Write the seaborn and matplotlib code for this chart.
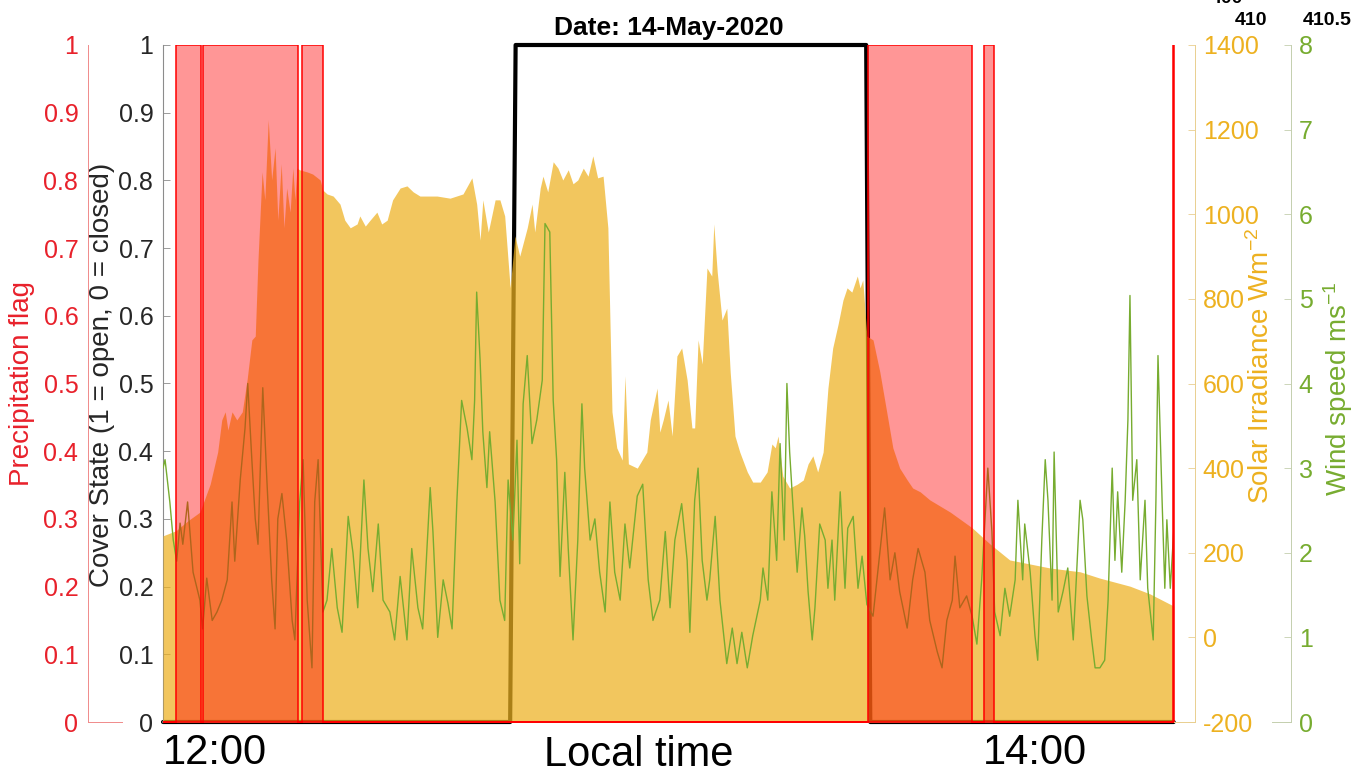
import numpy as np
import pandas as pd
import matplotlib
matplotlib.use('Agg')
import matplotlib.pyplot as plt
import seaborn as sns
from matplotlib.ticker import MultipleLocator, FuncFormatter

# tiempo en minutos despues de las 12:00 (hora local), 14-May-2020
t_start, t_end = -7.6, 140.3

# bandera de precipitacion = 1 entre estos tiempos
precip_start = [-5.7, -1.75, 12.75, 95.55, 112.5, 140.15]
precip_end = [-2.05, 12.15, 15.8, 110.8, 114.0, 140.3]

# estado de la cubierta (1 = abierta, 0 = cerrada)
cover_time = [-7.6, 43.2, 44.0, 95.3, 95.9, 140.3]
cover_state = [0, 0, 1, 1, 0, 0]

# irradiancia solar (W m-2)
solar_time = [-7.6, -5.7, -4.0, -2.2, -0.7, 0.4, 1.0, 1.5, 1.9, 2.5, 3.2, 4.0, 4.7, 5.4, 5.9,
              6.3, 6.9, 7.3, 7.8, 8.3, 8.8, 9.2, 9.7, 10.1, 10.5, 11.0, 11.4, 11.7, 12.0, 12.4,
              13.5, 14.3, 15.4, 15.8, 16.4, 17.3, 18.3, 19.0, 19.8, 20.8, 21.2, 22.0, 22.7, 23.7,
              24.4, 25.2, 26.0, 27.1, 28.1, 29.0, 30.0, 32.5, 34.4, 36.3, 37.6, 38.3, 38.8, 39.2,
              40.0, 41.0, 41.7, 42.4, 43.2, 43.9, 44.6, 45.7, 46.4, 46.8, 47.6, 48.0, 48.7, 49.5,
              50.2, 50.9, 51.7, 52.4, 53.1, 53.9, 54.6, 55.3, 56.0, 56.8, 57.5, 58.1, 58.8, 59.6,
              60.0, 60.5, 61.8, 63.2, 63.7, 64.7, 65.1, 65.6, 66.3, 66.9, 67.6, 68.3, 69.1, 69.8,
              70.2, 70.7, 71.3, 72.0, 72.7, 73.0, 73.5, 74.2, 74.9, 75.4, 76.1, 76.8, 77.9, 78.7,
              79.8, 80.8, 81.5, 82.0, 82.4, 83.1, 84.1, 85.2, 86.1, 86.8, 87.5, 88.2, 89.0, 89.7,
              90.4, 91.2, 91.9, 92.5, 93.2, 94.0, 94.4, 94.8, 95.4, 96.3, 97.3, 98.3, 99.2, 100.2,
              101.3, 102.1, 103.2, 104.6, 107.6, 110.8, 113.4, 116.3, 122.2, 126.6, 129.5, 133.9,
              136.8, 140.3]
solar_irr = [240, 252, 275, 296, 362, 438, 514, 533, 490, 533, 514, 533, 608, 703, 712,
             892, 1100, 1034, 1223, 1081, 1157, 986, 1119, 968, 1062, 1005, 1109, 1034, 1109, 1105,
             1100, 1095, 1081, 1057, 1048, 1043, 1024, 986, 968, 977, 996, 972, 986, 1005,
             977, 986, 1034, 1062, 1067, 1053, 1043, 1043, 1038, 1048, 1086, 1024, 939, 1034,
             958, 1034, 1034, 996, 826, 949, 901, 968, 1024, 958, 1062, 1090, 1053, 1124,
             1109, 1081, 1105, 1072, 1081, 1109, 1090, 1138, 1086, 1090, 968, 533, 448, 419,
             618, 410, 400, 438, 514, 589, 485, 514, 561, 476, 665, 684, 608, 495,
             495, 703, 646, 873, 854, 977, 864, 750, 778, 627, 476, 438, 391, 367,
             367, 391, 457, 448, 476, 381, 353, 362, 372, 410, 429, 391, 438, 589,
             684, 741, 797, 826, 816, 854, 826, 845, 712, 703, 627, 533, 448, 400,
             372, 353, 344, 325, 296, 259, 221, 183, 164, 155, 140, 121,
             103, 74]

# velocidad del viento (m s-1)
wind_time = [-7.6, -7.3, -6.6, -6.1, -5.6, -5.1, -4.7, -4.0, -3.2, -2.2, -1.8, -1.2, -0.4, 0.3,
             1.0, 1.8, 2.5, 2.9, 3.7, 4.4, 4.8, 5.4, 5.9, 6.3, 7.0, 7.6, 8.3, 8.8, 9.2, 9.8,
             10.5, 11.3, 11.7, 12.4, 12.9, 13.5, 14.2, 14.6, 15.1, 15.8, 16.4, 17.1, 17.9, 18.6,
             19.5, 20.2, 20.9, 21.8, 22.4, 23.1, 23.9, 24.6, 25.6, 26.3, 27.1, 28.1, 28.8, 29.7,
             30.4, 31.5, 31.9, 32.6, 33.4, 34.1, 34.7, 35.4, 36.1, 36.9, 37.6, 38.0, 38.3, 38.8,
             39.2, 39.8, 40.2, 41.0, 41.7, 42.4, 42.9, 43.6, 44.2, 44.6, 45.1, 45.7, 46.4, 47.1,
             47.9, 48.3, 49.0, 49.5, 50.0, 50.5, 51.2, 51.7, 52.4, 53.1, 53.7, 54.1, 54.9, 55.6,
             56.3, 57.1, 57.8, 58.5, 59.3, 60.0, 60.7, 61.8, 62.6, 63.4, 64.1, 65.1, 65.9, 66.6,
             67.3, 68.3, 69.1, 69.5, 70.2, 70.7, 71.3, 72.0, 72.4, 73.2, 73.9, 74.9, 75.7, 76.4,
             77.1, 77.9, 78.7, 79.8, 80.2, 80.9, 81.5, 82.2, 82.7, 83.3, 83.7, 84.1, 84.6, 85.2,
             85.9, 86.3, 86.8, 87.4, 87.8, 88.5, 89.3, 89.7, 90.3, 90.7, 91.5, 92.2, 92.6, 93.4,
             94.1, 94.7, 95.4, 96.3, 97.3, 98.0, 98.8, 99.5, 100.2, 101.3, 102.1, 102.9, 103.9,
             104.6, 105.7, 106.4, 107.1, 107.9, 108.3, 109.0, 110.0, 110.8, 111.5, 112.2, 113.1,
             113.7, 114.1, 114.9, 115.6, 116.3, 117.1, 117.5, 118.2, 118.5, 119.3, 120.0, 120.4,
             121.0, 121.5, 121.9, 122.5, 122.8, 123.4, 124.1, 124.8, 125.6, 126.1, 126.6, 127.0,
             127.6, 128.3, 128.8, 129.5, 130.2, 130.7, 131.3, 131.7, 132.1, 132.7, 133.2, 133.6,
             133.9, 134.3, 134.9, 135.4, 136.1, 136.5, 137.3, 137.7, 138.0, 138.6, 139.0, 139.3,
             139.8, 140.3]
wind_speed = [3.0, 3.1, 2.6, 2.15, 1.9, 2.35, 2.1, 2.6, 1.77, 1.44, 1.1, 1.7, 1.2, 1.3,
              1.44, 1.68, 2.6, 1.9, 2.86, 3.47, 4.0, 3.1, 2.4, 2.1, 3.95, 2.86, 1.68, 1.1, 2.4, 2.7,
              2.15, 1.2, 0.97, 2.6, 3.1, 1.44, 0.64, 2.6, 3.1, 1.3, 1.44, 2.05, 1.35, 1.06,
              2.43, 2.0, 1.35, 2.86, 2.05, 1.54, 2.34, 1.44, 1.3, 0.97, 1.72, 0.97, 2.05, 1.35,
              1.1, 2.77, 2.25, 1.0, 1.68, 1.4, 1.1, 2.6, 3.8, 3.47, 3.1, 3.8, 5.08, 4.28,
              3.43, 2.77, 3.43, 2.6, 1.44, 1.2, 2.86, 2.15, 3.33, 1.87, 3.76, 4.33, 3.29, 3.57,
              4.04, 5.89, 5.79, 3.8, 3.1, 1.72, 2.95, 2.05, 0.97, 2.15, 3.76, 3.0, 2.15, 2.4,
              1.77, 1.3, 2.6, 1.77, 1.44, 2.34, 1.82, 2.67, 2.81, 1.68, 1.2, 1.44, 2.25, 1.35,
              2.15, 2.58, 1.91, 1.06, 2.62, 3.0, 1.91, 1.44, 1.68, 2.43, 1.44, 0.69, 1.11, 0.69,
              1.06, 0.64, 1.02, 1.44, 1.82, 1.44, 2.72, 1.91, 3.29, 2.15, 4.0, 3.19, 2.53, 1.77,
              2.53, 2.2, 1.54, 0.97, 1.35, 2.34, 2.15, 1.58, 2.15, 1.44, 2.72, 1.58, 2.29, 2.43,
              1.58, 1.96, 1.39, 1.25, 2.0, 2.53, 1.68, 2.0, 1.54, 1.11, 1.68, 2.05, 1.77,
              1.2, 0.83, 0.64, 1.2, 1.44, 1.96, 1.35, 1.49, 1.25, 0.92, 1.68, 3.0,
              2.25, 1.3, 1.02, 1.58, 1.25, 1.68, 2.62, 1.68, 2.34, 1.77, 1.02, 0.73,
              2.15, 3.1, 2.62, 1.44, 3.19, 1.3, 1.54, 1.82, 0.97, 1.77, 2.62, 2.39,
              1.49, 0.97, 0.64, 0.64, 0.73, 1.44, 3.0, 1.91, 2.72, 1.77, 2.62, 3.57,
              5.04, 2.62, 3.1, 1.68, 2.62, 1.58, 0.97, 2.62, 4.33, 2.62, 1.58, 2.39,
              1.58, 2.25]

red = '#e8212b'
gold = '#EDB120'
green = '#77AC30'
dark = '#262626'

sns.set_theme(style='white')
plt.rcParams['font.family'] = ['Liberation Sans', 'DejaVu Sans']
plt.rcParams['mathtext.default'] = 'regular'

W, H = 1353, 773
fig = plt.figure(figsize=(W / 100, H / 100), dpi=100)

left, right = 163, 1173.7
bottom, top = 722, 45
pos_b = (H - bottom) / H
pos_h = (bottom - top) / H

ax = fig.add_axes([left / W, pos_b, (right - left) / W, pos_h])
ax.set_xlim(t_start, t_end)
ax.set_ylim(0, 1)

# capas: cubierta, irradiancia, viento, precipitacion
sns.lineplot(x=cover_time, y=cover_state, ax=ax, color='black', lw=3, sort=False)
ax.lines[-1].set_clip_on(False)

ax_s = ax.twinx()
ax_s.fill_between(solar_time, solar_irr, -200, color=gold, alpha=0.72, lw=0)
ax_s.set_ylim(-200, 1400)

ax_w = ax.twinx()
sns.lineplot(x=wind_time, y=wind_speed, ax=ax_w, color=green, lw=1.0)
ax_w.set_ylim(0, 8)

ax_p = ax.twinx()
px, py = [t_start], [0]
for s, e in zip(precip_start, precip_end):
    px += [s, s, e, e]
    py += [0, 1, 1, 0]
px.append(t_end)
py.append(0)
ax_p.fill_between(px, py, 0, facecolor=(1, 0, 0, 0.41), edgecolor='red', lw=1.1)
ax_p.set_ylim(0, 1)

for a in [ax_s, ax_w, ax_p]:
    a.set_xlim(t_start, t_end)
    a.set_yticks([])
    a.set_ylabel('')
    for sp in a.spines.values():
        sp.set_visible(False)

# eje principal (estado de cubierta)
for sp in ['top', 'right']:
    ax.spines[sp].set_visible(False)
ax.spines['left'].set_color('#8c8c8c')
ax.spines['left'].set_linewidth(0.8)
ax.spines['bottom'].set_color('#8c8c8c')
ax.yaxis.set_major_locator(MultipleLocator(0.1))
ax.yaxis.set_major_formatter(FuncFormatter(lambda v, p: f'{v:g}'))
ax.tick_params(axis='y', direction='in', length=5, width=0.6, color='#8c8c8c',
               labelcolor=dark, labelsize=18, pad=7, left=True)
ax.set_xticks([0, 120])
ax.xaxis.set_major_formatter(FuncFormatter(lambda v, p: f'{12 + int(v // 60)}:{int(v % 60):02d}'))
ax.tick_params(axis='x', length=0, labelsize=30, labelcolor='black', pad=8)
ax.set_xlabel('Local time', fontsize=30, color='black', va='top')
ax.xaxis.set_label_coords(0.471, -0.019)
ax.set_ylabel('Cover State (1 = open, 0 = closed)', fontsize=20, color=dark, va='center')
ax.yaxis.set_label_coords(-0.0604, 0.513)
ax.set_title('Date: 14-May-2020', fontsize=19, fontweight='bold', color='black', pad=7)


def stub_axis(x0, x1, side, color, spine_color, lim, step, label, label_xy, pad):
    a = fig.add_axes([x0 / W, pos_b, (x1 - x0) / W, pos_h])
    a.patch.set_visible(False)
    a.set_xlim(0, 1)
    a.set_ylim(*lim)
    a.set_xticks([])
    other = 'right' if side == 'left' else 'left'
    a.spines['top'].set_visible(False)
    a.spines[other].set_visible(False)
    a.spines[side].set_color(spine_color)
    a.spines[side].set_linewidth(0.7)
    a.spines['bottom'].set_color(spine_color)
    a.spines['bottom'].set_linewidth(0.7)
    a.yaxis.set_major_locator(MultipleLocator(step))
    a.yaxis.set_major_formatter(FuncFormatter(lambda v, p: f'{v:g}'))
    if side == 'right':
        a.yaxis.tick_right()
        a.yaxis.set_label_position('right')
    a.tick_params(axis='y', direction='in', length=5, width=0.6, color=spine_color,
                  labelcolor=color, labelsize=18, pad=pad)
    a.set_ylabel(label, fontsize=20, color=color, va='center', rotation=90)
    a.yaxis.set_label_coords(*label_xy)
    return a


stub_axis(88, 122, 'left', red, '#f08a8a', (0, 1), 0.1, 'Precipitation flag', (-1.94, 0.5), 7)
stub_axis(right, 1195, 'right', gold, '#e9cf8f', (-200, 1400), 200,
          'Solar Irradiance Wm$^{-2}$', (4.1, 0.526), 5.5)
stub_axis(1272, 1291, 'right', green, '#c4cfae', (0, 8), 1,
          'Wind speed ms$^{-1}$', (3.47, 0.493), 5.5)

# etiquetas sueltas de un eje superior
for txt, xp, yp in [('400', 1227, 3), ('410', 1251, 25), ('410.5', 1327, 25)]:
    fig.text(xp / W, 1 - yp / H, txt, ha='center', va='baseline', fontsize=14,
             fontweight='bold', color='black')

fig.savefig('out.png', dpi=100)
